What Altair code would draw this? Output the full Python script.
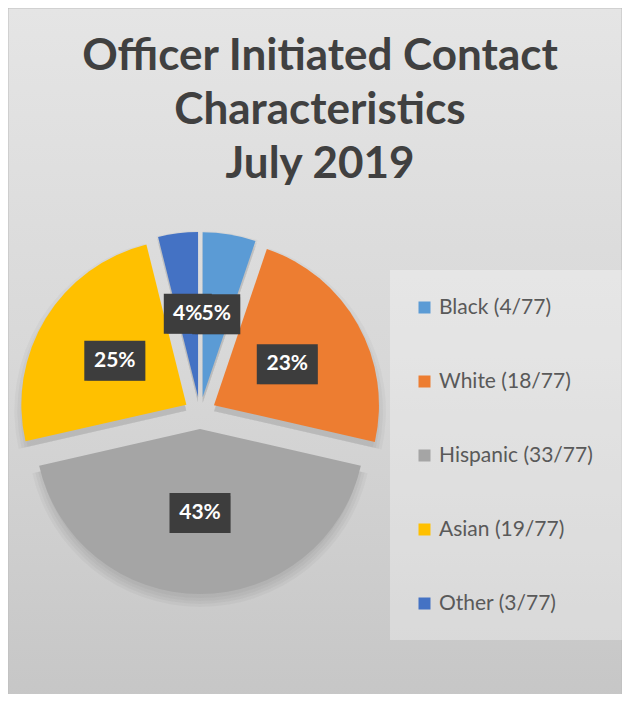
import altair as alt
import pandas as pd

# ---- data ----
categories = ["Black", "White", "Hispanic", "Asian", "Other"]
counts = [4, 18, 33, 19, 3]
colors = ["#5B9BD5", "#ED7D31", "#A5A5A5", "#FFC000", "#4472C4"]
title_lines = ["Officer Initiated Contact", "Characteristics", "July 2019"]

total = sum(counts)
legend_labels = [f"{c} ({n}/{total})" for c, n in zip(categories, counts)]

df = pd.DataFrame({
    "order": list(range(len(categories))),
    "category": categories,
    "count": counts,
    "label": legend_labels,
})
one = pd.DataFrame({"k": [0]})

# ---- layout (pixels relative to plot origin) ----
W, H, TOP = 614, 486, 200
CX, CY = 192, 205      # pie centre
R = 165                # pie radius
EXP = 16               # explosion distance
LR = 84                # label distance from slice apex
FONT = "Lato"

base = alt.Chart(df).transform_joinaggregate(
    total="sum(count)"
).transform_window(
    cum="sum(count)", sort=[alt.SortField("order")], frame=[None, 0]
).transform_calculate(
    t1="2*PI*datum.cum/datum.total",
    t0="2*PI*(datum.cum-datum.count)/datum.total",
).transform_calculate(
    mid="(datum.t0+datum.t1)/2"
).transform_calculate(
    px=f"{CX}+{EXP}*sin(datum.mid)",
    py=f"{CY}-{EXP}*cos(datum.mid)",
    lx=f"{CX}+({EXP}+{LR})*sin(datum.mid)",
    ly=f"{CY}-({EXP}+{LR})*cos(datum.mid)",
    pct="format(datum.count/datum.total, '.0%')",
).transform_calculate(
    bw="22+13*length(datum.pct)"
).transform_calculate(
    bx0="datum.lx-datum.bw/2", bx1="datum.lx+datum.bw/2",
    by0="datum.ly-20", by1="datum.ly+20",
)

bg = alt.Chart(one).mark_rect(
    color=alt.LinearGradient(
        gradient="linear", x1=0, x2=0, y1=0, y2=1,
        stops=[alt.GradientStop(color="#e5e5e5", offset=0),
               alt.GradientStop(color="#d8d8d8", offset=0.5),
               alt.GradientStop(color="#c6c6c6", offset=1)]),
    stroke="#bdbdbd", strokeWidth=1,
).encode(x=alt.value(0), x2=alt.value(W), y=alt.value(-TOP), y2=alt.value(H + 10))

legend_box = alt.Chart(one).mark_rect(color="white", opacity=0.3).encode(
    x=alt.value(382), x2=alt.value(614), y=alt.value(62), y2=alt.value(432)
)

theta_enc = dict(
    theta=alt.Theta("t0:Q", scale=None),
    theta2=alt.Theta2("t1:Q"),
    x=alt.X("px:Q", scale=None),
    y=alt.Y("py:Q", scale=None),
)

shadows = [
    base.mark_arc(radius=r, color="black", opacity=0.03, yOffset=6).encode(**theta_enc)
    for r in (163, 166, 169, 172)
]

pie = base.mark_arc(radius=R).encode(
    color=alt.Color(
        "label:N",
        scale=alt.Scale(domain=legend_labels, range=colors),
        legend=alt.Legend(
            title=None, orient="none", legendX=406, legendY=89,
            direction="vertical", symbolType="square", symbolSize=144,
            symbolStrokeWidth=0, labelFont=FONT, labelFontSize=21,
            labelColor="#595959", rowPadding=52, padding=0, labelOffset=4,
            labelLimit=300,
        ),
    ),
    **theta_enc,
)

box_shadow = base.mark_rect(color="black", opacity=0.25, xOffset=3, yOffset=3).encode(
    x=alt.X("bx0:Q", scale=None), x2="bx1:Q",
    y=alt.Y("by0:Q", scale=None), y2="by1:Q",
)
box = base.mark_rect(color="#3d3d3d").encode(
    x=alt.X("bx0:Q", scale=None), x2="bx1:Q",
    y=alt.Y("by0:Q", scale=None), y2="by1:Q",
)
label = base.mark_text(
    font=FONT, fontSize=21, fontWeight="bold", color="white",
    align="center", baseline="middle",
).encode(
    x=alt.X("lx:Q", scale=None), y=alt.Y("ly:Q", scale=None), text="pct:N"
)

chart = alt.layer(bg, legend_box, *shadows, pie, box_shadow, box, label).properties(
    width=W, height=H,
    autosize=alt.AutoSizeParams(type="none"),
    padding={"left": 0, "right": 0, "top": TOP, "bottom": 0},
    title=alt.Title(
        text=title_lines, font=FONT, fontSize=44, fontWeight="bold",
        color="#404040", lineHeight=54, anchor="middle", offset=-214,
        baseline="alphabetic", dx=5,
    ),
).configure_view(stroke=None).configure(background="white")

chart.save("out.html", embed_options={"renderer": "svg", "actions": False})
